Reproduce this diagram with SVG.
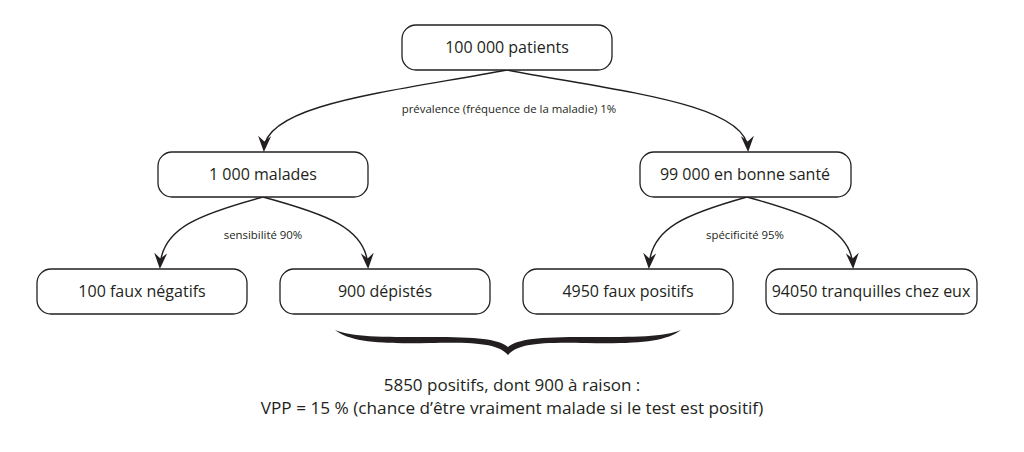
<svg xmlns="http://www.w3.org/2000/svg" width="1024" height="452" viewBox="0 0 1024 452">
<defs>
<style>
.box{fill:#fff;stroke:#231f20;stroke-width:1.3}
.t{font-family:"Open Sans","Liberation Sans",sans-serif;font-size:16px;fill:#231f20;text-anchor:middle}
.s{font-family:"Open Sans","Liberation Sans",sans-serif;font-size:11.4px;fill:#231f20;text-anchor:middle}
.c{fill:none;stroke:#231f20;stroke-width:1.4;marker-end:url(#ah)}
</style>
<marker id="ah" viewBox="0 0 16 13" refX="13" refY="6.5" markerWidth="16" markerHeight="13" markerUnits="userSpaceOnUse" orient="auto">
<path d="M0,0 L16,6.5 L0,13 L5.5,6.5 Z" fill="#231f20"/>
</marker>
</defs>
<rect width="1024" height="452" fill="#fff"/>
<g id="connectors">
<path class="c" d="M507,70 C390,92 266,104 264,149"/>
<path class="c" d="M507,70 C624,92 746,104 748,149"/>
<path class="c" d="M263,197 C200,214 162,228 160,266"/>
<path class="c" d="M263,197 C326,214 366,228 368,266"/>
<path class="c" d="M747,197 C686,214 651,228 649,266"/>
<path class="c" d="M747,197 C808,214 851,228 853,266"/>
<text class="s" x="509" y="113">prévalence (fréquence de la maladie) 1%</text>
<text class="s" x="263" y="239">sensibilité 90%</text>
<text class="s" x="745" y="239">spécificité 95%</text>
</g>
<g id="n-patients"><rect class="box" x="402" y="25" width="210" height="45" rx="14"/><text class="t" x="507" y="53">100 000 patients</text></g>
<g id="n-malades"><rect class="box" x="158" y="152" width="210" height="45" rx="14"/><text class="t" x="263" y="180">1 000 malades</text></g>
<g id="n-sante"><rect class="box" x="640" y="152" width="211" height="45" rx="14"/><text class="t" x="745" y="180">99 000 en bonne santé</text></g>
<g id="n-fn"><rect class="box" x="37" y="269" width="210" height="45" rx="14"/><text class="t" x="142" y="297">100 faux négatifs</text></g>
<g id="n-dep"><rect class="box" x="280" y="269" width="210" height="45" rx="14"/><text class="t" x="385" y="297">900 dépistés</text></g>
<g id="n-fp"><rect class="box" x="523" y="269" width="210" height="45" rx="14"/><text class="t" x="628" y="297">4950 faux positifs</text></g>
<g id="n-tq"><rect class="box" x="766" y="269" width="211" height="45" rx="14"/><text class="t" x="871" y="297">94050 tranquilles chez eux</text></g>
<g id="brace">
<path d="M335,330 C350,342 380,344 430,343 C478,342 498,344 508,355 C518,344 538,342 586,343 C636,344 666,342 681,330 C664,337 636,337 586,337 C538,337 518,339 508,347 C498,339 478,337 430,337 C380,337 352,337 335,330 Z" fill="#231f20"/>
</g>
<g id="summary">
<text class="t" x="512" y="391" style="font-size:17px">5850 positifs, dont 900 à raison :</text>
<text class="t" x="512" y="414" style="font-size:17.2px">VPP = 15 % (chance d’être vraiment malade si le test est positif)</text>
</g>
</svg>
